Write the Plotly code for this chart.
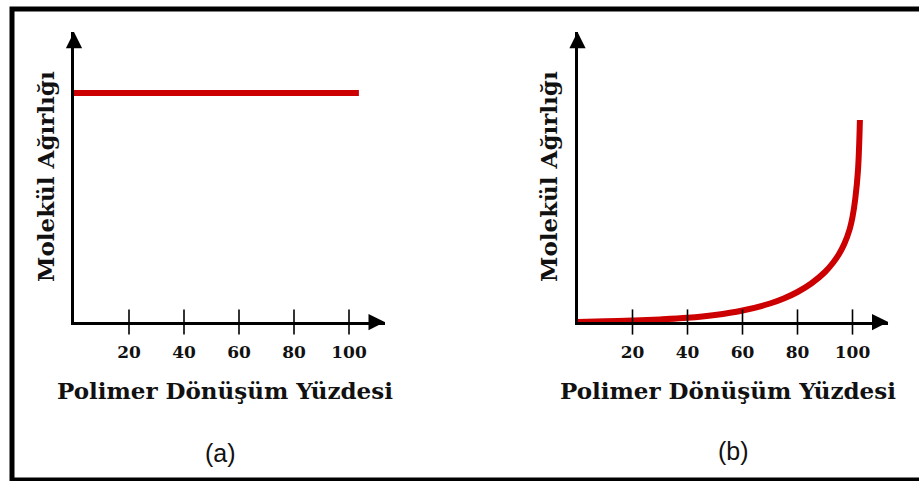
import plotly.graph_objects as go

W, H = 919, 481

# ---- data ----
x_ticks = [20, 40, 60, 80, 100]
tick_labels = ["20", "40", "60", "80", "100"]

# (a) constant molecular weight vs conversion
conv_a = [0, 103.6]
mw_a = [229, 229]

# (b) molecular weight rising sharply near full conversion
conv_b = [0, 10, 20, 30, 40, 50, 60, 70, 75, 80, 85, 90, 93, 95,
          97, 99, 100, 101, 102, 102.7]
mw_b = [0, 0.7, 1.5, 2.6, 4.2, 7, 11.5, 18.5, 23.5, 30, 38.5, 50, 59.5, 67.5,
        78, 93, 105, 123, 152, 202]

x_title = "Polimer Dönüşüm Yüzdesi"
y_title = "Molekül Ağırlığı"
panel_labels = ["(a)", "(b)"]

X_MAX, Y_MAX = 113, 290
RED = "#cc0000"
SERIF = "DejaVu Serif"

# ---- geometry (pixels) ----
PX_PER_UNIT = 2.75
ax_left = [74, 577.5]
ax_bottom, ax_top = 322, 32


def px(x):
    return x / W


def py(y):
    return 1 - y / H


fig = go.Figure()

for i, (cx, cy) in enumerate([(conv_a, mw_a), (conv_b, mw_b)]):
    sfx = "" if i == 0 else str(i + 1)
    fig.add_trace(go.Scatter(
        x=cx, y=cy, mode="lines", xaxis="x" + sfx, yaxis="y" + sfx,
        line=dict(color=RED, width=6,
                  shape="spline" if i else "linear", smoothing=1.0),
        cliponaxis=False, hoverinfo="skip"))
    fig.add_trace(go.Scatter(
        x=x_ticks, y=[0] * len(x_ticks), mode="markers",
        xaxis="x" + sfx, yaxis="y" + sfx,
        marker=dict(symbol="line-ns", size=18,
                    line=dict(width=1.6, color="black")),
        cliponaxis=False, hoverinfo="skip"))

layout = dict(
    width=W, height=H, margin=dict(l=0, r=0, t=0, b=0),
    paper_bgcolor="white", plot_bgcolor="white", showlegend=False,
    hovermode=False,
)

annotations = []
shapes = []
for i in range(2):
    sfx = "" if i == 0 else str(i + 1)
    x0 = ax_left[i]
    x1 = x0 + PX_PER_UNIT * X_MAX
    layout["xaxis" + sfx] = dict(
        domain=[px(x0), px(x1)], range=[0, X_MAX], anchor="y" + sfx,
        showgrid=False, zeroline=False, showline=True, linewidth=2.5,
        linecolor="black", layer="below traces",
        tickmode="array", tickvals=x_ticks, ticktext=tick_labels,
        ticks="outside", ticklen=13, tickcolor="rgba(0,0,0,0)",
        tickfont=dict(family=SERIF, size=17, color="#111", weight="bold"),
    )
    layout["yaxis" + sfx] = dict(
        domain=[py(ax_bottom), py(ax_top)], range=[0, Y_MAX],
        anchor="x" + sfx, showgrid=False, zeroline=False, showline=True,
        linewidth=2.5, linecolor="black", layer="below traces",
        showticklabels=False, ticks="",
    )
    # arrow heads
    annotations.append(dict(
        x=X_MAX, y=0, ax=X_MAX - 6, ay=0, xref="x" + sfx, yref="y" + sfx,
        axref="x" + sfx, ayref="y" + sfx, text="", showarrow=True,
        arrowhead=2, arrowsize=1.3, arrowwidth=2.5, arrowcolor="black",
        standoff=0))
    annotations.append(dict(
        x=0, y=Y_MAX, ax=0, ay=Y_MAX - 15, xref="x" + sfx, yref="y" + sfx,
        axref="x" + sfx, ayref="y" + sfx, text="", showarrow=True,
        arrowhead=2, arrowsize=1.3, arrowwidth=2.5, arrowcolor="black",
        standoff=0))
    # titles
    xt_center = [225, 728][i]
    annotations.append(dict(
        x=px(xt_center), y=py(390), xref="paper", yref="paper",
        text=x_title, showarrow=False, xanchor="center", yanchor="middle",
        font=dict(family=SERIF, size=23, color="#111", weight="bold")))
    annotations.append(dict(
        x=px([46, 549][i]), y=py(177), xref="paper", yref="paper",
        text=y_title, showarrow=False, textangle=-90,
        xanchor="center", yanchor="middle",
        font=dict(family=SERIF, size=23, color="#111", weight="bold")))
    annotations.append(dict(
        x=px([220, 733][i]), y=py([453, 451][i]), xref="paper", yref="paper",
        text=panel_labels[i], showarrow=False, xanchor="center",
        yanchor="middle",
        font=dict(family="Liberation Sans", size=25, color="#111")))

# outer frame
shapes.append(dict(type="rect", xref="paper", yref="paper",
                   x0=px(12), x1=px(935), y0=py(480), y1=py(9),
                   line=dict(color="black", width=5), fillcolor="rgba(0,0,0,0)"))

layout["annotations"] = annotations
layout["shapes"] = shapes
fig.update_layout(**layout)

fig.write_html("out.html")
